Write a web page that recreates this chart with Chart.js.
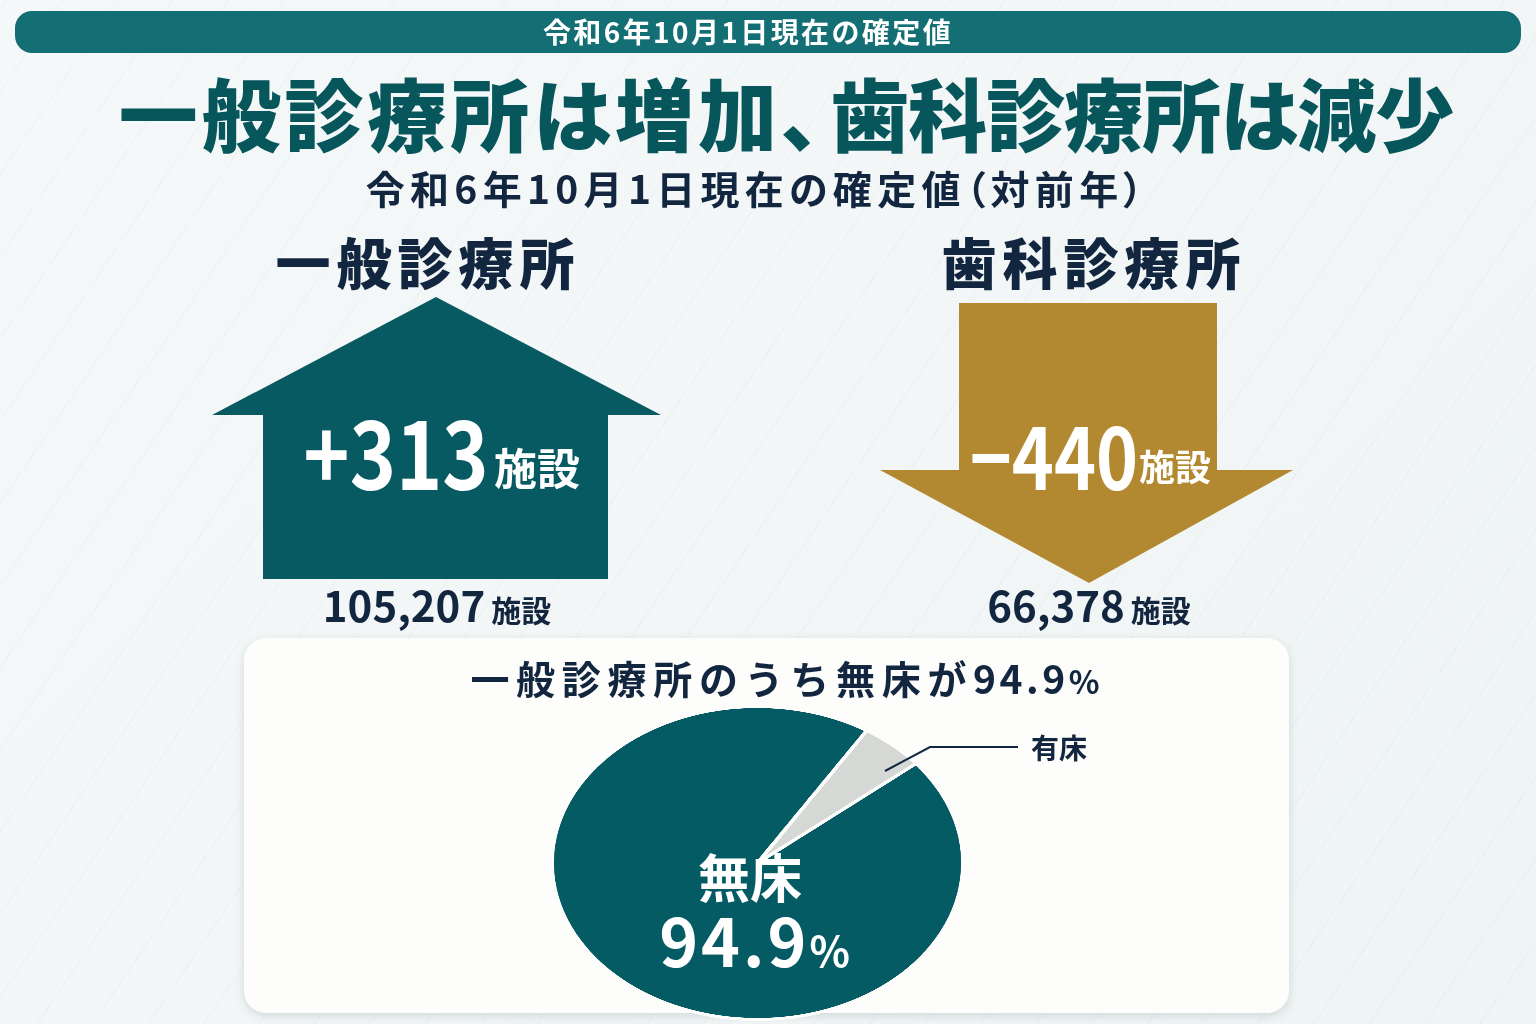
<!DOCTYPE html>
<html lang="ja"><head><meta charset="utf-8">
<script src="https://cdn.jsdelivr.net/npm/chart.js@4"></script>
<style>
html,body{margin:0;padding:0;width:1536px;height:1024px;overflow:hidden}
body{position:relative;font-family:"Noto Sans CJK JP","Noto Sans",sans-serif;
background:repeating-linear-gradient(-56deg,rgba(180,200,205,.13) 0 1px,transparent 1px 46px),linear-gradient(135deg,#f5f8f8 0%,#f2f6f6 50%,#eff4f4 100%)}
.t{position:absolute;white-space:nowrap;transform:translate(-50%,-50%);line-height:1;font-weight:700}
.navy{color:#13263f}.teal{color:#07565c}.white{color:#fff}
.palt{font-feature-settings:"palt"}
#bar{position:absolute;left:15px;top:11px;width:1506px;height:42px;border-radius:17px;background:#146f75}
#panel{position:absolute;left:244px;top:638px;width:1045px;height:375px;border-radius:22px;background:#fdfdfb;box-shadow:0 3px 10px rgba(70,90,95,.18)}
#arrows{position:absolute;left:0;top:0}
#pieWrap{position:absolute;left:550px;top:705px;width:415px;height:316px}
#pie{width:415px!important;height:316px!important;display:block}
</style></head><body>
<div id="bar"></div>
<div id="panel"></div>
<svg id="arrows" width="1536" height="1024">
<polygon fill="#075a61" points="436,297 661,415 608,415 608,579 263,579 263,415 212,415"/>
<polygon fill="#b28930" points="959,303 1217,303 1217,470 1293,470 1089,583 880,470 959,470"/>
</svg>
<div id="pieWrap"><canvas id="pie" width="316" height="316"></canvas></div>
<svg style="position:absolute;left:0;top:0" width="1536" height="1024"><polyline points="885,771 930,747 1018,747" fill="none" stroke="#13263f" stroke-width="2"/></svg>

<div class="t white" style="left:748px;top:31px;font-size:28px;letter-spacing:2.4px">令和6年10月1日現在の確定値</div>
<div class="t teal palt" style="left:786px;top:111px;font-size:79px;font-weight:900"><span style="letter-spacing:3.9px">一般診療所は増加</span>、<span style="letter-spacing:-1px;margin-left:10px">歯科診療所は減少</span></div>
<div class="t navy palt" style="left:757px;top:187px;font-size:39px;letter-spacing:5.3px">令和6年10月1日現在の確定値（対前年）</div>
<div class="t navy" style="left:428px;top:260px;font-size:55px;letter-spacing:6px;font-weight:900">一般診療所</div>
<div class="t navy" style="left:1094px;top:260px;font-size:55px;letter-spacing:6px;font-weight:900">歯科診療所</div>
<div class="t white" style="left:396px;top:449px;font-size:93px;transform:translate(-50%,-50%) scaleX(.845)" id="chgA"></div>
<div class="t white" style="left:537px;top:466px;font-size:43px">施設</div>
<div class="t white" style="left:1054px;top:452px;font-size:85px;transform:translate(-50%,-50%) scaleX(.84)" id="chgB"></div>
<div class="t white" style="left:1175px;top:465px;font-size:36px">施設</div>
<div class="t navy" style="left:437px;top:604px;font-size:42px"><span id="totA"></span><span style="font-size:30px;margin-left:6px">施設</span></div>
<div class="t navy" style="left:1089px;top:604px;font-size:42px"><span id="totB"></span><span style="font-size:30px;margin-left:6px">施設</span></div>
<div class="t navy" style="left:785px;top:677px;font-size:39px;letter-spacing:6.7px">一般診療所のうち無床が<span style="letter-spacing:3.5px">94.9</span><span style="font-size:32px;letter-spacing:0">%</span></div>
<div class="t navy" style="left:1059px;top:747px;font-size:28px" id="lblB"></div>
<div class="t white" style="left:750px;top:876px;font-size:52px" id="lblA"></div>
<div class="t white" style="left:756px;top:938px;font-size:66px;letter-spacing:3px">94.9<span style="font-size:42px">%</span></div>
<script>
const pieCategories = ["無床", "有床"];
const pieValues = [94.9, 5.1];
const pieColors = ["#055b63", "#d6d8d6"];
const changeLabels = ["+313", "−440"];
const totalLabels = ["105,207", "66,378"];

document.getElementById("chgA").textContent = changeLabels[0];
document.getElementById("chgB").textContent = changeLabels[1];
document.getElementById("totA").textContent = totalLabels[0];
document.getElementById("totB").textContent = totalLabels[1];
document.getElementById("lblA").textContent = pieCategories[0];
document.getElementById("lblB").textContent = pieCategories[1];

new Chart(document.getElementById("pie"), {
  type: "pie",
  data: { labels: pieCategories, datasets: [{ data: pieValues, backgroundColor: pieColors, borderColor: "#fdfdfb", borderWidth: 3 }] },
  options: {
    responsive: false, animation: false, devicePixelRatio: 3, rotation: 50.5,
    layout: { padding: 0 },
    plugins: { legend: { display: false }, tooltip: { enabled: false } }
  }
});
</script>
</body></html>
